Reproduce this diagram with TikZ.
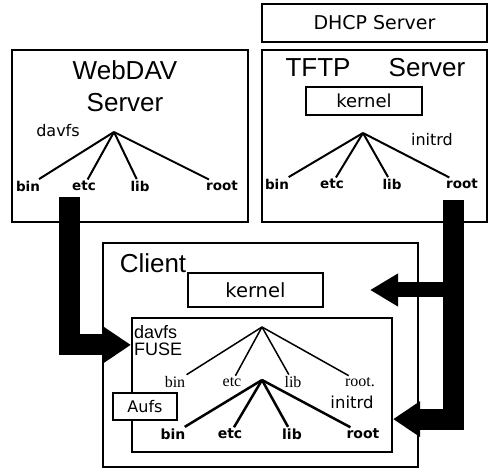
\documentclass[tikz,border=0pt]{standalone}
\usepackage{fontspec}
\setmainfont{DejaVu Sans}
\newfontfamily\arialf{Liberation Sans}
\newfontfamily\timesf{Liberation Serif}
\usetikzlibrary{arrows.meta,calc}
\begin{document}
\begin{tikzpicture}[x=1pt,y=-1pt,
  box/.style={draw, line width=2.2pt, inner sep=0pt},
  title/.style={font=\arialf\fontsize{26}{32}\selectfont, inner sep=0pt, align=center},
  leaf/.style={font=\bfseries\fontsize{13.5}{13.5}\selectfont, inner sep=1.5pt},
  bleaf/.style={font=\bfseries\fontsize{14}{14}\selectfont, inner sep=1.5pt},
  sleaf/.style={font=\timesf\fontsize{16}{16}\selectfont, inner sep=1.5pt},
  branch/.style={line width=2pt},
  tbranch/.style={line width=1.5pt},
  kbranch/.style={line width=2.5pt},
  lbl/.style={font=\fontsize{16}{16}\selectfont, inner sep=0pt},
  fat/.style={line width=21pt, line join=miter, -{Triangle[length=27pt,width=34pt]}}]
\useasboundingbox[fill=white] (0,0) rectangle (490,470);

% boxes
\node[box, minimum width=225pt, minimum height=38pt, font=\fontsize{19}{19}\selectfont] (dhcp) at (374.5,23) {DHCP Server};
\node[box, minimum width=225pt, minimum height=172pt] (tftp) at (374.5,136) {};
\node[box, minimum width=236pt, minimum height=172pt] (webdav) at (130,136) {};
\node[box, minimum width=116pt, minimum height=28pt, font=\fontsize{18}{18}\selectfont] (tkernel) at (364,101) {kernel};
\node[box, minimum width=315pt, minimum height=224pt] (client) at (260.5,355) {};
\node[box, minimum width=135pt, minimum height=34pt, font=\fontsize{19.5}{19.5}\selectfont] (ckernel) at (255.5,290) {kernel};
\node[box, minimum width=260pt, minimum height=134pt] (inner) at (262,385) {};
\node[box, minimum width=64pt, minimum height=27pt, font=\fontsize{16}{16}\selectfont, fill=white] (aufs) at (145,406.5) {Aufs};

% titles
\node[title] (wtitle) at (125,86) {WebDAV\\Server};
\node[title] (ttitle1) at (318,68) {TFTP};
\node[title] (ttitle2) at (427,68) {Server};
\node[title] (ctitle) at (153,263) {Client};

% labels
\node[lbl] (wdavfs) at (58,131) {davfs};
\node[lbl] (tinitrd) at (432,140) {initrd};
\node[lbl, font=\fontsize{16.5}{16.5}\selectfont] (cinitrd) at (352,402) {initrd};
\node[lbl, font=\arialf\fontsize{18}{17}\selectfont, align=left, anchor=north west] (cdavfs) at (134,325) {davfs\\FUSE};

% WebDAV tree
\coordinate (wa) at (114,132);
\node[leaf] (wbin) at (28,186) {bin};
\node[leaf] (wetc) at (84,186) {etc};
\node[leaf] (wlib) at (140,186) {lib};
\node[leaf] (wroot) at (222,186) {root};
\foreach \n in {wbin,wetc,wlib,wroot} \draw[branch] (wa) -- (\n);

% TFTP tree
\coordinate (ta) at (363,133);
\node[leaf] (tbin) at (277,184) {bin};
\node[leaf] (tetc) at (332,184) {etc};
\node[leaf] (tlib) at (392,184) {lib};
\node[leaf] (troot) at (462,184) {root};
\foreach \n in {tbin,tetc,tlib,troot} \draw[branch] (ta) -- (\n);

% client upper tree
\coordinate (ca) at (262,327);
\node[sleaf] (cbin) at (175,382) {bin};
\node[sleaf] (cetc) at (232,382) {etc};
\node[sleaf] (clib) at (293,382) {lib};
\node[sleaf] (croot) at (360,382) {root.};
\foreach \n in {cbin,cetc,clib,croot} \draw[tbranch] (ca) -- (\n);

% client lower tree
\coordinate (ka) at (262,380);
\node[bleaf] (kbin) at (173,434) {bin};
\node[bleaf] (ketc) at (230,434) {etc};
\node[bleaf] (klib) at (292,434) {lib};
\node[bleaf] (kroot) at (363,434) {root};
\foreach \n in {kbin,ketc,klib,kroot} \draw[kbranch] (ka) -- (\n);

% fat arrows
\coordinate (wtop) at (69,197);
\draw[fat] (wtop) |- ($(inner.north west)+(0,28)$);
\coordinate (ttop) at (453,200);
\draw[fat] (ttop) |- ($(inner.south east)+(0,-34)$);
\coordinate (tmid) at (453,290);
\coordinate (kend) at (370,290);
\draw[line width=15pt, -{Triangle[length=28pt,width=31pt]}] (tmid) -- (kend);
\end{tikzpicture}
\end{document}
